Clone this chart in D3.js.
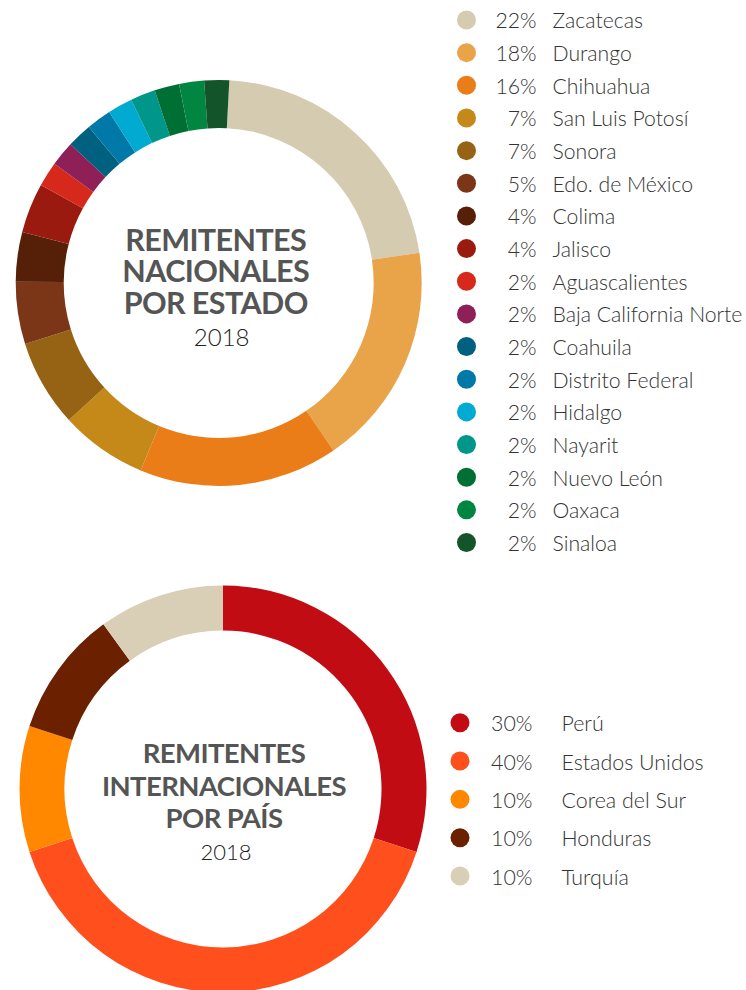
<!DOCTYPE html>
<html>
<head>
<meta charset="utf-8">
<script src="https://cdn.jsdelivr.net/npm/d3@7"></script>
<style>
  html, body { margin: 0; padding: 0; background: #fff; }
  svg { display: block; }
  .legend-text { font-family: Lato, "Open Sans", sans-serif; font-weight: 300; fill: #333; }
  .title { font-family: Lato, sans-serif; font-weight: 700; fill: #555; }
  .year { font-family: Lato, sans-serif; font-weight: 300; fill: #222; }
</style>
</head>
<body>
<svg id="chart" width="746" height="990"></svg>
<script>
// national senders by state (percent)
const estados = ["Zacatecas", "Durango", "Chihuahua", "San Luis Potosí", "Sonora", "Edo. de México",
  "Colima", "Jalisco", "Aguascalientes", "Baja California Norte", "Coahuila", "Distrito Federal",
  "Hidalgo", "Nayarit", "Nuevo León", "Oaxaca", "Sinaloa"];
const estadosPct = [22, 18, 16, 7, 7, 5, 4, 4, 2, 2, 2, 2, 2, 2, 2, 2, 2];
const estadosColors = ["#d5cbb0", "#e9a349", "#eb7d18", "#c5891a", "#966314", "#7b3618",
  "#552007", "#9b1a10", "#d6281b", "#8f1f57", "#00607f", "#0079a8", "#00aad0", "#009689",
  "#006f33", "#008641", "#13542a"];

// international senders by country (percent)
const paises = ["Perú", "Estados Unidos", "Corea del Sur", "Honduras", "Turquía"];
const paisesPct = [30, 40, 10, 10, 10];
const paisesColors = ["#c20c14", "#ff4f1d", "#ff8800", "#6b2100", "#d9ceb6"];

const svg = d3.select("#chart");

function drawDonut({ cx, cy, outer, inner, names, values, colors, offset }) {
  const data = names.map((n, i) => ({ name: n, value: values[i], color: colors[i] }));
  const pie = d3.pie().sort(null).value(d => d.value)
    .startAngle(offset).endAngle(offset + 2 * Math.PI);
  const arc = d3.arc().innerRadius(inner).outerRadius(outer);
  const g = svg.append("g").attr("transform", `translate(${cx},${cy})`);
  g.selectAll("path").data(pie(data)).join("path")
    .attr("d", arc)
    .attr("fill", d => d.data.color);
  return g;
}

// one text block for the centre label, so the lines stay together
function drawTitle(g, lines, size, lineH, year, yearSize, firstY, dx) {
  const t = g.append("text").attr("text-anchor", "middle");
  lines.forEach((s, i) => {
    t.append("tspan").attr("class", "title")
      .attr("x", dx).attr("y", firstY + i * lineH)
      .attr("font-size", size).attr("letter-spacing", -0.6).text(s);
  });
  t.append("tspan").attr("class", "year")
    .attr("x", 3).attr("y", firstY + lines.length * lineH)
    .attr("font-size", yearSize).text(year);
}

// top donut
const donutTop = drawDonut({
  cx: 218.7, cy: 283, outer: 203, inner: 155,
  names: estados, values: estadosPct, colors: estadosColors,
  offset: 3 * Math.PI / 180
});
drawTitle(donutTop, ["REMITENTES", "NACIONALES", "POR ESTADO"], 30.5, 31.7, "2018", 24, -32.3, -3);

// bottom donut
const donutBottom = drawDonut({
  cx: 223, cy: 789, outer: 203.5, inner: 158.5,
  names: paises, values: paisesPct, colors: paisesColors,
  offset: 0
});
drawTitle(donutBottom, ["REMITENTES", "INTERNACIONALES", "POR PAÍS"], 27.5, 32.2, "2018", 22, -25.7, 1);

// top legend
const y1 = d3.scalePoint().domain(estados).range([20, 542.5]);
const leg1 = svg.append("g");
estados.forEach((n, i) => {
  const y = y1(n);
  leg1.append("circle").attr("cx", 466.5).attr("cy", y).attr("r", 9.5).attr("fill", estadosColors[i]);
  leg1.append("text").attr("class", "legend-text").attr("x", 536.5).attr("y", y + 8.4)
    .attr("text-anchor", "end").attr("font-size", 21.2).text(estadosPct[i] + "%");
  leg1.append("text").attr("class", "legend-text").attr("x", 552.5).attr("y", y + 8.4)
    .attr("font-size", 21.2).text(n);
});

// bottom legend
const y2 = d3.scalePoint().domain(paises).range([722.7, 876]);
const leg2 = svg.append("g");
paises.forEach((n, i) => {
  const y = y2(n);
  leg2.append("circle").attr("cx", 460).attr("cy", y).attr("r", 9.5).attr("fill", paisesColors[i]);
  leg2.append("text").attr("class", "legend-text").attr("x", 491).attr("y", y + 8.6)
    .attr("font-size", 21.4).text(paisesPct[i] + "%");
  leg2.append("text").attr("class", "legend-text").attr("x", 561.5).attr("y", y + 8.6)
    .attr("font-size", 21.4).text(n);
});
</script>
</body>
</html>
